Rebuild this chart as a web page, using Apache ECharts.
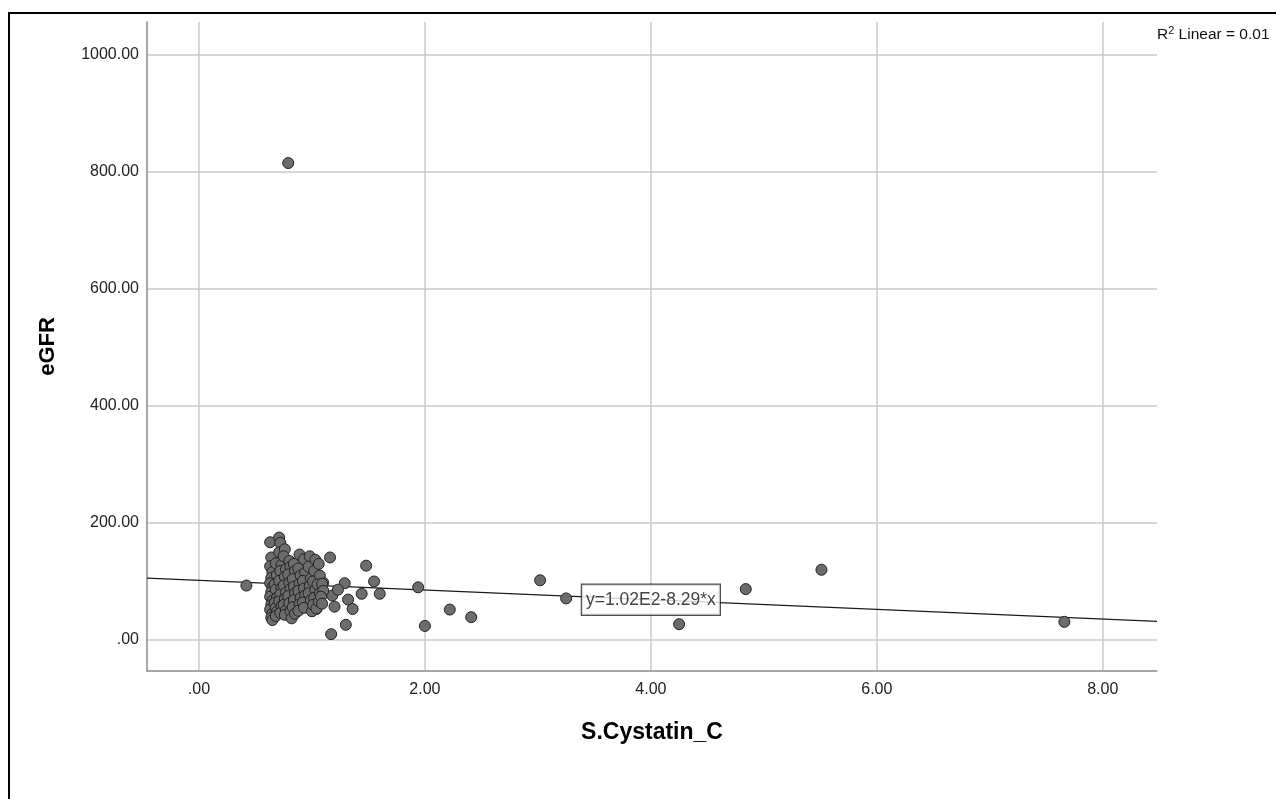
<!DOCTYPE html>
<html>
<head>
<meta charset="utf-8">
<script src="https://cdn.jsdelivr.net/npm/echarts@6/dist/echarts.min.js"></script>
<style>
  html, body { margin: 0; padding: 0; background: #fff; }
  #scatterChart { width: 1276px; height: 799px; }
</style>
</head>
<body>
<div id="scatterChart"></div>
<script>
// S.Cystatin_C values (x) and eGFR values (y)
const cystatinC = [
  0.79, 0.42, 1.16, 1.48, 1.55, 1.29, 1.44, 1.60, 1.32, 1.36, 1.20, 1.30, 1.17, 1.04, 1.18, 1.23, 1.10,
  1.94, 2.00, 2.22, 2.41, 3.02, 3.25, 4.25, 4.84, 5.51, 7.66,
  0.63, 0.64, 0.63, 0.65, 0.64, 0.63, 0.65, 0.64, 0.63, 0.65, 0.64, 0.63, 0.65, 0.64, 0.65,
  0.68, 0.69, 0.67, 0.68, 0.69, 0.67, 0.68, 0.69, 0.68,
  0.71, 0.72, 0.71, 0.73, 0.72, 0.71, 0.73, 0.72, 0.71, 0.73, 0.72,
  0.76, 0.75, 0.77, 0.76, 0.75, 0.77, 0.76, 0.75, 0.77, 0.76,
  0.80, 0.81, 0.79, 0.80, 0.81, 0.79, 0.80, 0.81, 0.82,
  0.84, 0.85, 0.83, 0.84, 0.85, 0.84, 0.83, 0.85,
  0.89, 0.88, 0.90, 0.89, 0.88, 0.90, 0.89, 0.88,
  0.93, 0.94, 0.92, 0.93, 0.94, 0.92, 0.93,
  0.98, 0.97, 0.99, 0.98, 0.97, 0.99, 1.00,
  1.03, 1.02, 1.01, 1.03, 1.02, 1.01, 1.04,
  1.06, 1.07, 1.05, 1.07, 1.06,
  1.09, 1.10, 1.08, 1.09
];
const eGFR = [
  815, 93, 141, 127, 100, 97, 79, 79, 69, 53, 57, 26, 10, 53, 76, 86, 98,
  90, 24, 52, 39, 102, 71, 27, 87, 120, 31,
  167, 141, 126, 116, 106, 97, 90, 82, 74, 67, 60, 52, 45, 38, 34,
  131, 111, 95, 86, 72, 63, 55, 48, 41,
  175, 166, 150, 128, 118, 101, 89, 78, 66, 58, 46,
  155, 143, 121, 108, 93, 81, 70, 60, 51, 43,
  135, 125, 112, 98, 87, 75, 63, 49, 37,
  130, 118, 104, 91, 80, 68, 56, 45,
  146, 122, 110, 96, 84, 72, 61, 50,
  138, 115, 101, 88, 76, 64, 55,
  143, 125, 105, 92, 80, 68, 49,
  137, 118, 100, 86, 72, 60, 54,
  130, 110, 95, 80, 66,
  96, 84, 74, 62
];

// fit line end points (y = 1.02E2 - 8.29*x) across the axis range
const fitLine = [[-0.46, 105.8], [8.48, 31.7]];
const fitLabelAt = [4.0, 68.8];
const fitLabel = 'y=1.02E2-8.29*x';

const xTicks = [0, 2, 4, 6, 8];
const yTicks = [0, 200, 400, 600, 800, 1000];

const points = cystatinC.map((v, i) => [v, eGFR[i]]);

function fmt(v) {
  let s = Number(v).toFixed(2);
  if (s.startsWith('0.')) s = s.slice(1);
  return s;
}

const font = '"Liberation Sans", Arial, sans-serif';

let myChart = echarts.init(document.getElementById('scatterChart'));
let option = {
  animation: false,
  backgroundColor: '#fff',
  grid: { left: 147, right: 119, top: 22, bottom: 128, containLabel: false },
  xAxis: {
    type: 'value',
    min: -0.46,
    max: 8.48,
    name: 'S.Cystatin_C',
    nameLocation: 'middle',
    nameGap: 50,
    nameTextStyle: { fontFamily: font, fontSize: 23, fontWeight: 'bold', color: '#000' },
    axisLine: { show: true, onZero: false, lineStyle: { color: '#8a8a8a', width: 1.5 } },
    axisTick: { show: false, customValues: xTicks },
    axisLabel: { customValues: xTicks, formatter: fmt, margin: 11, fontFamily: font, fontSize: 16, color: '#222' },
    splitLine: { show: true, lineStyle: { color: '#cacaca', width: 1.5 } }
  },
  yAxis: {
    type: 'value',
    min: -53,
    max: 1056,
    name: 'eGFR',
    nameLocation: 'middle',
    nameGap: 88,
    nameTextStyle: { fontFamily: font, fontSize: 22, fontWeight: 'bold', color: '#000' },
    axisLine: { show: true, onZero: false, lineStyle: { color: '#8a8a8a', width: 1.5 } },
    axisTick: { show: false, customValues: yTicks },
    axisLabel: { customValues: yTicks, formatter: fmt, margin: 8, fontFamily: font, fontSize: 16, color: '#222' },
    splitLine: { show: true, lineStyle: { color: '#cacaca', width: 1.5 } }
  },
  graphic: [
    {
      type: 'rect',
      shape: { x: 9, y: 13, width: 1400, height: 1000 },
      style: { fill: 'none', stroke: '#000', lineWidth: 2 },
      z: 100
    },
    {
      type: 'text',
      left: 1157,
      top: 25,
      style: {
        text: '{b|R}{s|2}{b| Linear = 0.01}',
        rich: {
          b: { fontFamily: font, fontSize: 15.5, fill: '#111', verticalAlign: 'bottom' },
          s: { fontFamily: font, fontSize: 11, fill: '#111', verticalAlign: 'top', padding: [0, 0, 7, 0] }
        }
      }
    }
  ],
  series: [
    {
      name: 'fit',
      type: 'line',
      data: fitLine,
      symbol: 'none',
      lineStyle: { color: '#1a1a1a', width: 1.2 },
      z: 3
    },
    {
      name: 'eGFR',
      type: 'scatter',
      data: points,
      symbol: 'circle',
      symbolSize: 11,
      itemStyle: { color: '#6c6c6c', borderColor: '#222', borderWidth: 1, opacity: 1 },
      z: 4
    },
    {
      name: 'fitLabel',
      type: 'scatter',
      data: [fitLabelAt],
      symbolSize: 0,
      label: {
        show: true,
        position: 'inside',
        formatter: fitLabel,
        fontFamily: font,
        fontSize: 17.5,
        color: '#111',
        backgroundColor: '#fff',
        borderColor: '#222',
        borderWidth: 1.2,
        padding: [6, 4, 6, 4]
      },
      z: 6
    }
  ]
};
myChart.setOption(option, true);
</script>
</body>
</html>
